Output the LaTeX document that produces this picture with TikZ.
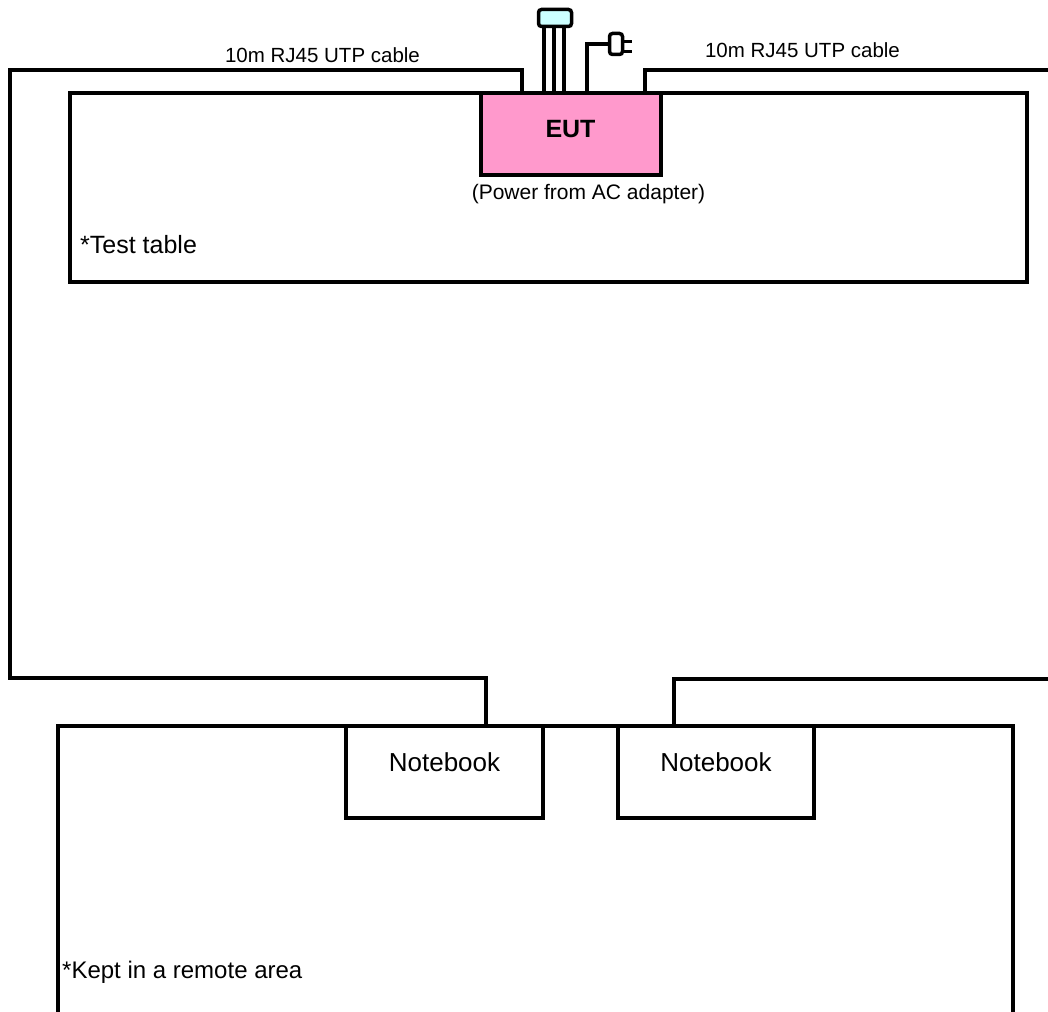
\documentclass[tikz,border=0pt]{standalone}
\usepackage{fontspec}
\setmainfont{Liberation Sans}
\begin{document}
\begin{tikzpicture}[x=1pt,y=-1pt,
  box/.style={draw=black,line width=3.5pt,rectangle,inner sep=0pt},
  cable/.style={draw=black,line width=3.5pt},
  lbl/.style={inner sep=0pt,font=\fontsize{20.5}{24}\selectfont},
  ]
\definecolor{eutpink}{RGB}{255,153,204}
\definecolor{usbcyan}{RGB}{204,255,255}
\useasboundingbox (0,0) rectangle (1048,1011);
\clip (0,0) rectangle (1048,1011);
% tables
\node[box,minimum width=957pt,minimum height=189pt] (table) at (548.5,187.5) {};
\draw[cable] (58,1020) -- (58,726) -- (1013,726) -- (1013,1020);
% EUT
\node[box,fill=eutpink,minimum width=180pt,minimum height=82pt] (eut) at (571,134) {};
\node[inner sep=0pt,font=\fontsize{25}{30}\selectfont\bfseries] (euttxt) at (570.5,129) {EUT};
% USB connector
\node[draw=black,line width=3.5pt,fill=usbcyan,rounded corners=3pt,minimum width=33pt,minimum height=17pt,inner sep=0pt] (usb) at (555,18) {};
\foreach \x in {544,554,564}{\draw[cable] (\x,27) -- (\x,93);}
% power plug
\node[draw=black,line width=3.5pt,rounded corners=3pt,minimum width=13pt,minimum height=21pt,inner sep=0pt] (plug) at (616,44) {};
\draw[cable] (587,93) |- (plug.west);
\draw[cable] (623,41.5) -- (632,41.5);
\draw[cable] (623,51.5) -- (632,51.5);
% notebooks
\node[box,fill=white,minimum width=197pt,minimum height=92pt] (nb1) at (444.5,772) {};
\node[box,fill=white,minimum width=196pt,minimum height=92pt] (nb2) at (716,772) {};
\node[inner sep=0pt,font=\fontsize{26}{30}\selectfont] at (444.5,762) {Notebook};
\node[inner sep=0pt,font=\fontsize{26}{30}\selectfont] at (716,762) {Notebook};
% cables
\coordinate (cl1) at (10,70);
\coordinate (cl2) at (10,678);
\coordinate (cr1) at (1050,70);
\coordinate (cr2) at (1050,679);
\draw[cable] (522,93) |- (cl1) -- (cl2) -| (486,726);
\draw[cable] (645,93) |- (cr1);
\draw[cable] (cr2) -| (674,726);
% labels
\node[lbl] at (322.5,55) {10m RJ45 UTP cable};
\node[lbl] at (802.5,50) {10m RJ45 UTP cable};
\node[inner sep=0pt,font=\fontsize{21}{25}\selectfont] at (588.5,194) {(Power from AC adapter)};
\node[inner sep=0pt,anchor=west,font=\fontsize{25}{30}\selectfont] at (80,245) {*Test table};
\node[inner sep=0pt,anchor=west,font=\fontsize{24}{30}\selectfont] at (62,972) {*Kept in a remote area};
\end{tikzpicture}
\end{document}
